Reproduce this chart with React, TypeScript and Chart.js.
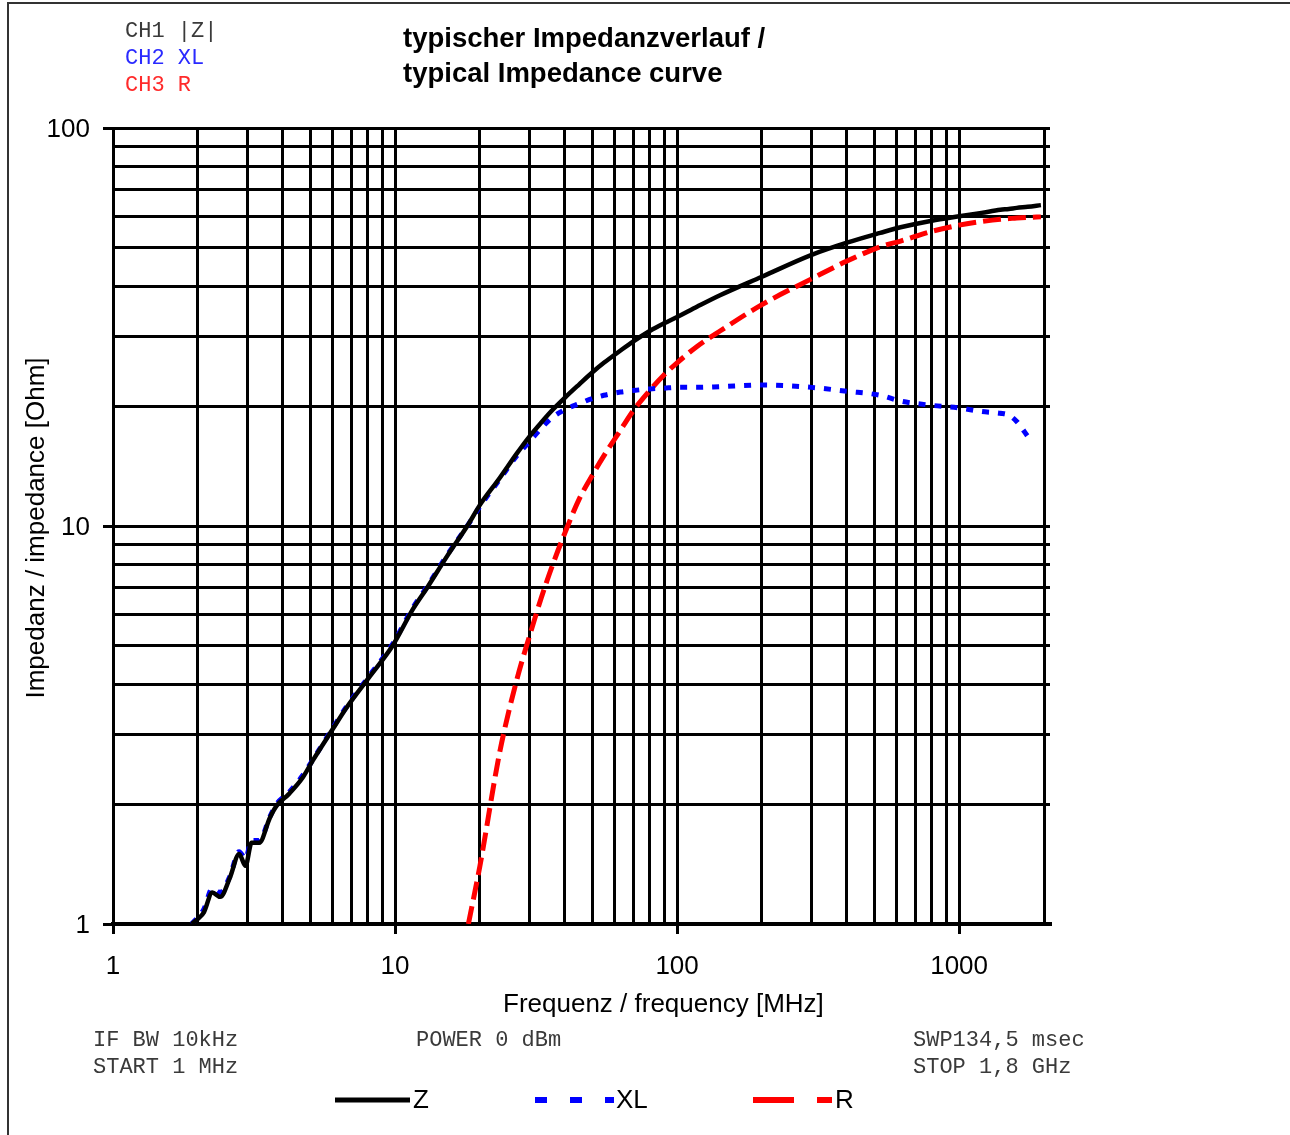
import React, { useEffect, useRef } from "react";
import { Chart, registerables } from "chart.js";

Chart.register(...registerables);

// ---- data ----
const freqMHz = [
  1.9, 2.0, 2.1, 2.25, 2.4, 2.6, 2.8, 2.95, 3.1, 3.3, 3.6, 3.8, 4.2, 4.7, 5.1, 6, 6.7, 8.1, 9.8, 11.6,
  13, 15.3, 18.2, 20, 23.5, 27, 30, 33, 36, 40, 45, 50, 55, 63, 70, 80, 90, 100, 118, 142, 200, 300, 400,
  525, 620, 800, 1000, 1200, 1400, 1500, 1600, 1750, 1950,
];
const zOhm = [
  1.0, 1.03, 1.07, 1.2, 1.17, 1.31, 1.5, 1.4, 1.6, 1.6, 1.85, 1.98, 2.12, 2.33, 2.57, 3.08, 3.48, 4.17, 5.0, 6.2,
  7.0, 8.4, 10.1, 11.3, 13.2, 15.2, 16.8, 18.2, 19.5, 21.0, 22.7, 24.3, 25.7, 27.6, 29.1, 30.9, 32.3, 33.5, 35.6, 38.0, 42.3, 48.0, 51.5,
  54.5, 56.3, 58.5, 60.0, 61.2, 62.3, 62.6, 63.0, 63.4, 64.0,
];
const xlOhm = [
  1.0, 1.04, 1.09, 1.23, 1.2, 1.32, 1.52, 1.46, 1.62, 1.62, 1.86, 2.0, 2.14, 2.36, 2.58, 3.1, 3.5, 4.2, 5.05, 6.25,
  7.05, 8.45, 10.1, 11.2, 13.1, 15.0, 16.3, 17.6, 18.7, 19.6, 20.3, 20.9, 21.3, 21.7, 21.9, 22.1, 22.2, 22.3, 22.3, 22.4, 22.6, 22.3, 21.8,
  21.3, 20.6, 20.1, 19.8, 19.4, 19.2, 19.0, 18.3, 16.8, null,
];
const rOhm = [
  null, null, null, null, null, null, null, null, null, null, null, null, null, null, null, null, null, null, null, null,
  null, null, 1.0, 1.4, 2.7, 4.1, 5.3, 6.6, 7.9, 9.6, 11.7, 13.4, 15.0, 17.4, 19.5, 21.9, 24.0, 25.7, 28.3, 30.9, 36.0, 41.8, 46.3,
  50.3, 52.0, 55.0, 57.0, 58.2, 59.0, 59.2, 59.4, 59.6, 59.8,
];

const seriesLabels = ["Z", "XL", "R"];
const xTickValues = [1, 2, 3, 4, 5, 6, 7, 8, 9, 10, 20, 30, 40, 50, 60, 70, 80, 90, 100, 200, 300, 400, 500, 600, 700, 800, 900, 1000, 2000];
const xMajorTicks = [1, 10, 100, 1000];
const yTickValues = [1, 2, 3, 4, 5, 6, 7, 8, 9, 10, 20, 30, 40, 50, 60, 70, 80, 90, 100];
const yMajorTicks = [1, 10, 100];

const titleLines = ["typischer Impedanzverlauf /", "typical Impedance curve"];
const channelLabels = ["CH1 |Z|", "CH2 XL", "CH3 R"];
const xAxisTitle = "Frequenz / frequency [MHz]";
const yAxisTitle = "Impedanz / impedance [Ohm]";
const notesLeft = ["IF BW 10kHz", "START 1 MHz"];
const notesMid = ["POWER 0 dBm"];
const notesRight = ["SWP134,5 msec", "STOP 1,8 GHz"];

const SANS = '"Liberation Sans", Arial, sans-serif';
const MONO = '"Liberation Mono", "Courier New", monospace';

const pts = (vals: (number | null)[]) => freqMHz.map((f, i) => ({ x: f, y: vals[i] }));

const extrasPlugin = {
  id: "extras",
  afterDraw(chart: any) {
    const ctx = chart.ctx as CanvasRenderingContext2D;
    ctx.save();
    // outer frame (top + left)
    ctx.strokeStyle = "#333";
    ctx.lineWidth = 2;
    ctx.beginPath();
    ctx.moveTo(8, 1135);
    ctx.lineTo(8, 3);
    ctx.lineTo(1290, 3);
    ctx.stroke();

    // channel labels
    ctx.font = `22px ${MONO}`;
    ctx.textBaseline = "middle";
    ctx.textAlign = "left";
    const chColors = ["#3a3a3a", "#2a2aff", "#ff2a2a"];
    channelLabels.forEach((t, i) => {
      ctx.fillStyle = chColors[i];
      ctx.fillText(t, 125, 31 + i * 27);
    });

    // title
    ctx.fillStyle = "#000";
    ctx.font = `bold 27.5px ${SANS}`;
    titleLines.forEach((t, i) => ctx.fillText(t, 403, 39 + i * 35));

    // axis titles
    ctx.font = `26px ${SANS}`;
    ctx.textAlign = "left";
    ctx.fillText(xAxisTitle, 503, 1005);
    ctx.save();
    ctx.translate(37, 528);
    ctx.rotate(-Math.PI / 2);
    ctx.textAlign = "center";
    ctx.fillText(yAxisTitle, 0, 0);
    ctx.restore();

    // instrument notes
    ctx.font = `22px ${MONO}`;
    ctx.fillStyle = "#3a3a3a";
    ctx.textAlign = "left";
    notesLeft.forEach((t, i) => ctx.fillText(t, 93, 1040 + i * 27));
    notesMid.forEach((t, i) => ctx.fillText(t, 416, 1040 + i * 27));
    notesRight.forEach((t, i) => ctx.fillText(t, 913, 1040 + i * 27));

    // legend
    const legendY = 1100;
    const items = [
      { x0: 335, x1: 410, tx: 413, dash: [] as number[], w: 5 },
      { x0: 535, x1: 614, tx: 616, dash: [12, 23], w: 6 },
      { x0: 753, x1: 832, tx: 835, dash: [41, 23], w: 6 },
    ];
    chart.data.datasets.forEach((ds: any, i: number) => {
      const it = items[i];
      ctx.strokeStyle = ds.borderColor;
      ctx.lineWidth = it.w;
      ctx.setLineDash(it.dash);
      ctx.beginPath();
      ctx.moveTo(it.x0, legendY);
      ctx.lineTo(it.x1, legendY);
      ctx.stroke();
      ctx.setLineDash([]);
      ctx.fillStyle = "#000";
      ctx.font = `26px ${SANS}`;
      ctx.textAlign = "left";
      ctx.fillText(ds.label, it.tx, legendY + 1);
    });
    ctx.restore();
  },
};

export default function App() {
  const ref = useRef<HTMLCanvasElement | null>(null);
  useEffect(() => {
    if (!ref.current) return;
    const chart = new Chart(ref.current, {
      type: "line",
      data: {
        datasets: [
          {
            label: seriesLabels[0],
            data: pts(zOhm),
            borderColor: "#000000",
            borderWidth: 4.5,
            pointRadius: 0,
            cubicInterpolationMode: "monotone",
          },
          {
            label: seriesLabels[1],
            data: pts(xlOhm),
            borderColor: "#0000ff",
            borderWidth: 5,
            borderDash: [7, 9],
            pointRadius: 0,
            cubicInterpolationMode: "monotone",
          },
          {
            label: seriesLabels[2],
            data: pts(rOhm),
            borderColor: "#ff0000",
            borderWidth: 5,
            borderDash: [18, 7],
            pointRadius: 0,
            cubicInterpolationMode: "monotone",
          },
        ],
      } as any,
      options: {
        animation: false,
        responsive: false,
        devicePixelRatio: 1,
        layout: { padding: { top: 128, right: 240, left: 0, bottom: 0 } },
        plugins: { legend: { display: false }, tooltip: { enabled: false }, title: { display: false } },
        scales: {
          x: {
            type: "logarithmic",
            min: 1,
            max: 2100,
            afterFit: (s: any) => {
              s.height = 211;
            },
            afterBuildTicks: (s: any) => {
              s.ticks = xTickValues.map((v) => ({ value: v, major: false }));
            },
            grid: {
              color: "#000",
              lineWidth: 3,
              drawTicks: true,
              tickLength: 10,
              tickWidth: 3,
              tickColor: (c: any) => (c.tick && xMajorTicks.includes(c.tick.value) ? "#000" : "rgba(0,0,0,0)"),
            },
            border: { display: true, color: "#000", width: 4 },
            ticks: {
              autoSkip: false,
              maxRotation: 0,
              padding: 17,
              color: "#000",
              font: { family: SANS, size: 26 },
              callback: (v: any) => (xMajorTicks.includes(Number(v)) ? String(v) : ""),
            },
          },
          y: {
            type: "logarithmic",
            min: 1,
            max: 100,
            afterFit: (s: any) => {
              s.width = 113;
            },
            afterBuildTicks: (s: any) => {
              s.ticks = yTickValues.map((v) => ({ value: v, major: false }));
            },
            grid: {
              color: "#000",
              lineWidth: 3,
              drawTicks: true,
              tickLength: 10,
              tickWidth: 3,
              tickColor: (c: any) => (c.tick && yMajorTicks.includes(c.tick.value) ? "#000" : "rgba(0,0,0,0)"),
            },
            border: { display: true, color: "#000", width: 3 },
            ticks: {
              autoSkip: false,
              padding: 13,
              labelOffset: 2,
              color: "#000",
              font: { family: SANS, size: 26 },
              callback: (v: any) => (yMajorTicks.includes(Number(v)) ? String(v) : ""),
            },
          },
        },
      } as any,
      plugins: [extrasPlugin],
    });
    return () => chart.destroy();
  }, []);

  return (
    <div style={{ position: "fixed", left: 0, top: 0, width: 1290, height: 1135, background: "#fff" }}>
      <canvas ref={ref} width={1290} height={1135} style={{ display: "block" }} />
    </div>
  );
}
